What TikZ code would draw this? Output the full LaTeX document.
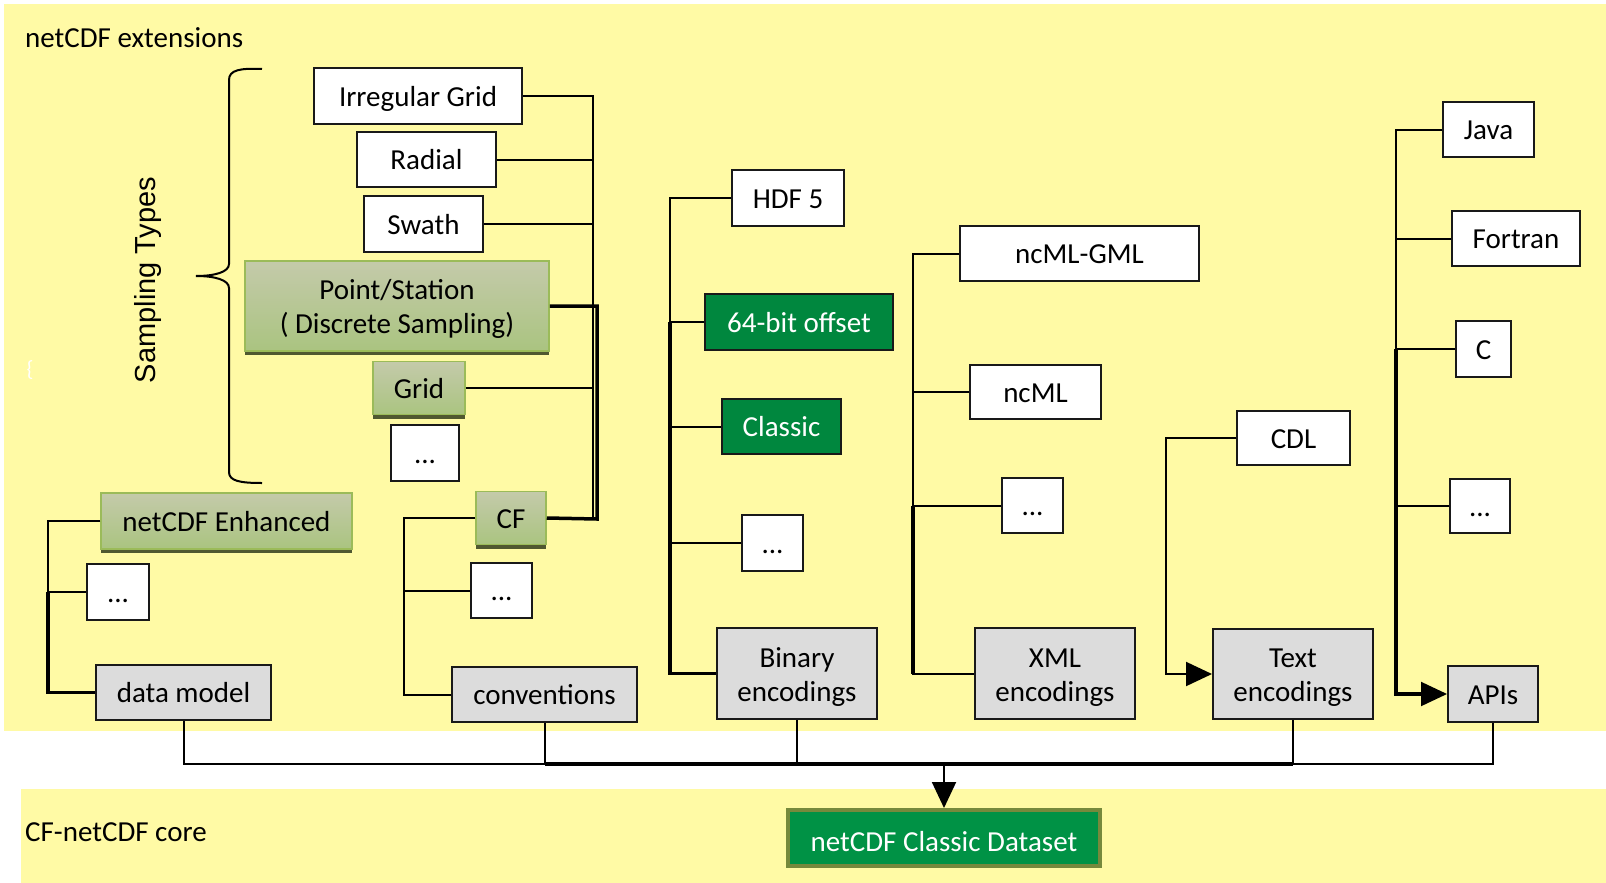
\documentclass[tikz,border=0pt]{standalone}
\usepackage{fontspec}
\setmainfont{Carlito}
\newfontfamily\arialfont{Liberation Sans}
\usetikzlibrary{arrows.meta,shadows}
\definecolor{bandyellow}{RGB}{255,250,165}
\definecolor{boxgray}{RGB}{220,220,220}
\definecolor{darkgreen}{RGB}{0,135,62}
\definecolor{coregreen}{RGB}{0,146,69}
\definecolor{coreolive}{RGB}{118,137,60}
\definecolor{olivetop}{RGB}{196,202,170}
\definecolor{olivebot}{RGB}{170,196,128}
\definecolor{oliveedge}{RGB}{155,187,89}
\definecolor{oliveshade}{RGB}{80,88,48}
\tikzset{every node/.style={font=\fontsize{29}{34}\selectfont,inner sep=0pt,align=center},
    boxtext/.style={text height=26pt,text depth=6pt},
    twoline/.style={text height=61pt,text depth=6pt},
    plainbox/.style={boxtext,draw=black!90,line width=2pt,fill=white},
    basebox/.style={boxtext,draw=black!90,line width=2pt,fill=boxgray},
    greenbox/.style={boxtext,draw=black!90,line width=2pt,fill=darkgreen,text=white},
    olivebox/.style={boxtext,draw=oliveedge,line width=1.5pt,top color=olivetop,bottom color=olivebot,
        drop shadow={shadow xshift=0pt,shadow yshift=-4pt,fill=oliveshade,opacity=1}},
    corebox/.style={text height=32pt,text depth=6pt,draw=coreolive,line width=4pt,fill=coregreen,text=white},
    link/.style={line width=2pt},
    trunk/.style={line width=3.5pt},
    tip/.style={-{Triangle[length=26pt,width=24pt]}},
    }

\begin{document}
\begin{tikzpicture}[x=1pt,y=-1pt]
	\useasboundingbox (0,0) rectangle (1606,883);
	\fill[white] (0,0) rectangle (1606,883);
	\fill[bandyellow] (4,4) rectangle (1606,731);
	\fill[bandyellow] (21,789) rectangle (1606,883);
	\node[anchor=west] (ext) at (25,38) {netCDF extensions};
	\node[anchor=west] (corelbl) at (25,832) {CF-netCDF core};
	\node[rotate=90,font=\arialfont\fontsize{29}{34}\selectfont] (samp) at (148,280) {Sampling Types};
	\node[text=white,font=\fontsize{22}{26}\selectfont] (stray) at (30,370) {\{};
	% brace over the sampling types
	\draw[link] (262,69) .. controls (240,68) and (229,70) .. (229,80) -- (229,264)
		.. controls (229,272) and (215,276) .. (196,276)
		.. controls (215,276) and (229,280) .. (229,288) -- (229,472)
		.. controls (229,481) and (240,483) .. (262,483);
	% sampling types
	\node[plainbox,minimum width=208,minimum height=56] (irr) at (418,96) {Irregular Grid};
	\node[plainbox,minimum width=139,minimum height=55] (rad) at (426.5,159.5) {Radial};
	\node[plainbox,minimum width=119,minimum height=56] (swa) at (423.5,224) {Swath};
	\node[olivebox,twoline,minimum width=304,minimum height=90] (pnt) at (397,306) {Point/Station\\( Discrete Sampling)};
	\node[olivebox,minimum width=92,minimum height=53] (grd) at (419,388) {Grid};
	\node[plainbox,minimum width=68,minimum height=56] (dt1) at (425,453) {...};
	% conventions
	\node[olivebox,minimum width=70,minimum height=53] (cf) at (511,518) {CF};
	\node[plainbox,minimum width=61,minimum height=55] (dt2) at (501.5,590.5) {...};
	\node[basebox,minimum width=185,minimum height=55] (conv) at (544.5,694.5) {conventions};
	% data model
	\node[olivebox,minimum width=251,minimum height=56] (enh) at (226.5,521) {netCDF Enhanced};
	\node[plainbox,minimum width=62,minimum height=56] (dt3) at (118,592) {...};
	\node[basebox,minimum width=175,minimum height=55] (dm) at (183.5,692.5) {data model};
	% binary encodings
	\node[plainbox,minimum width=112,minimum height=56] (hdf) at (788,198) {HDF 5};
	\node[greenbox,minimum width=188,minimum height=56] (b64) at (799,322) {64-bit offset};
	\node[greenbox,minimum width=119,minimum height=55] (cls) at (781.5,426.5) {Classic};
	\node[plainbox,minimum width=61,minimum height=56] (dt4) at (772.5,543) {...};
	\node[basebox,twoline,minimum width=160,minimum height=91] (bin) at (797,673.5) {Binary\\encodings};
	% xml encodings
	\node[plainbox,minimum width=239,minimum height=55] (gml) at (1079.5,253.5) {ncML-GML};
	\node[plainbox,minimum width=131,minimum height=54] (ncml) at (1035.5,392) {ncML};
	\node[plainbox,minimum width=61,minimum height=55] (dt5) at (1032.5,505.5) {...};
	\node[basebox,twoline,minimum width=160,minimum height=91] (xml) at (1055,673.5) {XML\\encodings};
	% text encodings
	\node[plainbox,minimum width=113,minimum height=54] (cdl) at (1293.5,438) {CDL};
	\node[basebox,twoline,minimum width=160,minimum height=90] (txt) at (1293,674) {Text\\encodings};
	% apis
	\node[plainbox,minimum width=91,minimum height=55] (java) at (1488.5,129.5) {Java};
	\node[plainbox,minimum width=128,minimum height=55] (ftn) at (1516,238.5) {Fortran};
	\node[plainbox,minimum width=55,minimum height=56] (cc) at (1483.5,349) {C};
	\node[plainbox,minimum width=60,minimum height=54] (dt6) at (1480,506) {...};
	\node[basebox,minimum width=90,minimum height=56] (api) at (1493,694) {APIs};
	% core
	\node[corebox,minimum width=312,minimum height=56] (core) at (944,838) {netCDF Classic Dataset};

	\coordinate (sj) at (593,519);
	\coordinate (sk) at (597,519);
	\draw[link] (irr.east) -| (sj);
	\foreach \n in {rad,swa,grd} \draw[link] (\n.east) -- (\n.east -| sj);
	\draw[trunk] (pnt.east) -| (sk) -- (cf.east);

	\coordinate (dj) at (48,518);
	\draw[link] (enh.west) -| (dj |- dm.west);
	\draw[link] (dt3.west) -- (dt3.west -| dj);
	\draw[trunk] (dt3.west -| dj) -- (dj |- dm.west) -- (dm.west);

	\coordinate (cj) at (404,519);
	\draw[link] (cf.west) -| (cj |- conv.west) -- (conv.west);
	\draw[link] (dt2.west) -- (dt2.west -| cj);

	\coordinate (bj) at (670,198);
	\draw[link] (hdf.west) -| (bj |- bin.west) -- (bin.west);
	\foreach \n in {b64,cls,dt4} \draw[link] (\n.west) -- (\n.west -| bj);
	\draw[trunk] (bj |- b64.west) -- (bj |- bin.west) -- (bin.west);

	\coordinate (xj) at (913,254);
	\draw[link] (gml.west) -| (xj |- xml.west) -- (xml.west);
	\foreach \n in {ncml,dt5} \draw[link] (\n.west) -- (\n.west -| xj);
	\draw[trunk] (xj |- dt5.west) -- (xj |- xml.west);

	\coordinate (tj) at (1166,438);
	\draw[link,tip] (cdl.west) -| (tj |- txt.west) -- (txt.west);

	\coordinate (aj) at (1396,130);
	\draw[link,tip] (java.west) -| (aj |- api.west) -- (api.west);
	\foreach \n in {ftn,cc,dt6} \draw[link] (\n.west) -- (\n.west -| aj);
	\draw[trunk] (aj |- cc.west) -- (aj |- api.west) -- ([xshift=-26pt]api.west);

	\coordinate (bus) at (944,764);
	\draw[link] (dm.south) |- (bus) -| (api.south);
	\foreach \n in {conv,bin,txt} \draw[link] (\n.south) -- (\n.south |- bus);
	\draw[trunk] (conv.south |- bus) -- (txt.south |- bus);
	\draw[line width=4pt] (bus) -- ([xshift=113pt]bus);
	\draw[link,tip] (bus) -- (core.north);
\end{tikzpicture}
\end{document}
